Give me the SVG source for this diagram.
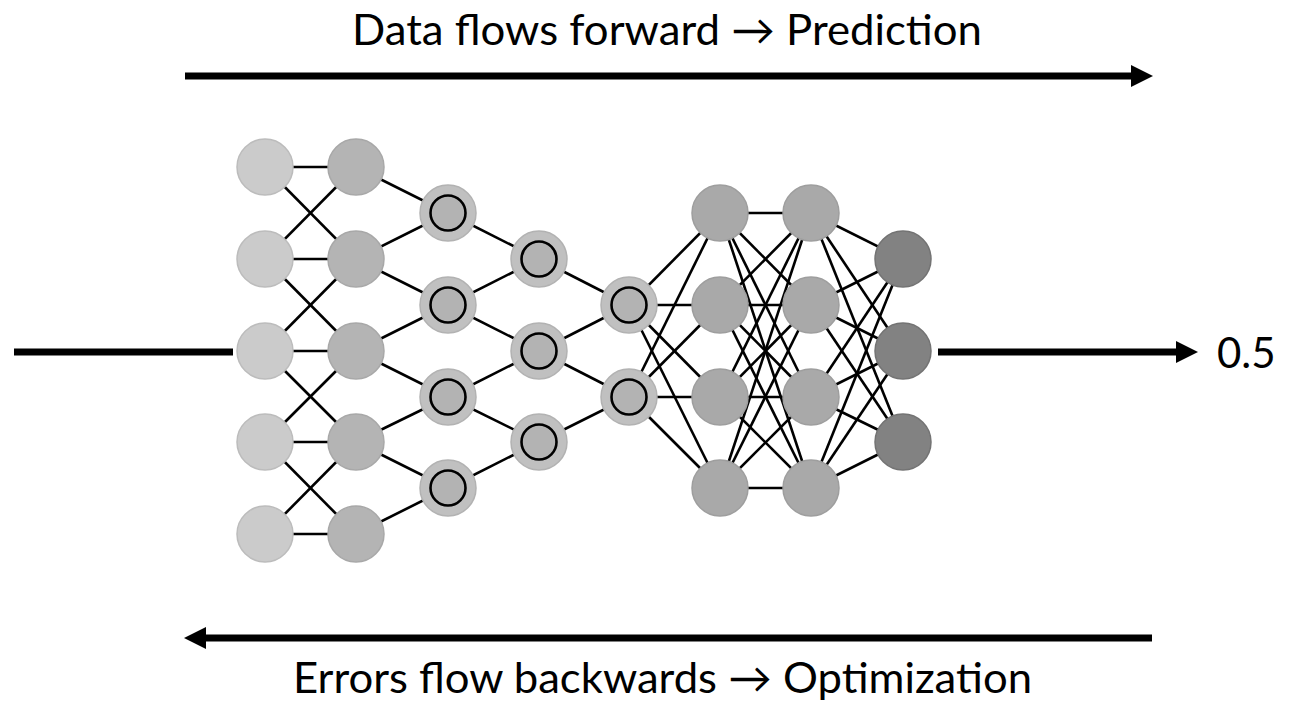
<svg xmlns="http://www.w3.org/2000/svg" width="1304" height="704" viewBox="0 0 1304 704">
  <style>
    .lbl { font-family: Lato, "Open Sans", "Liberation Sans", sans-serif; font-size: 42px; fill: #000; }
    .edge { stroke: #000; stroke-width: 2.6; fill: none; }
    .flow { stroke: #000; stroke-width: 7; fill: none; }
    .in { fill: #cbcbcb; stroke: #bcbcbc; stroke-width: 1.5; }
    .h1 { fill: #b4b4b4; stroke: #a8a8a8; stroke-width: 1.5; }
    .ring { fill: #c0c0c0; stroke: #b2b2b2; stroke-width: 1.5; }
    .core { fill: #b3b3b3; stroke: #000; stroke-width: 2.6; }
    .dense { fill: #a9a9a9; stroke: #9e9e9e; stroke-width: 1.5; }
    .out { fill: #828282; stroke: #737373; stroke-width: 1.5; }
  </style>
  <defs>
    <marker id="head" markerUnits="userSpaceOnUse" markerWidth="22" markerHeight="22" refX="0" refY="11" orient="auto">
      <path d="M0,0 L22,11 L0,22 Z" fill="#000"/>
    </marker>
  </defs>
  <rect width="1304" height="704" fill="#fff"/>

  <!-- flow arrows and captions -->
  <g id="forward">
    <text class="lbl" x="352" y="45" textLength="630" lengthAdjust="spacingAndGlyphs">Data flows forward → Prediction</text>
    <line class="flow" x1="185" y1="76" x2="1131" y2="76" marker-end="url(#head)"/>
  </g>
  <g id="backward">
    <line class="flow" x1="1152" y1="638" x2="206" y2="638" marker-end="url(#head)"/>
    <text class="lbl" x="293" y="693" textLength="739" lengthAdjust="spacingAndGlyphs">Errors flow backwards → Optimization</text>
  </g>

  <!-- connectors -->
  <g id="connectors">
    <line class="flow" x1="14" y1="352" x2="233" y2="352"/>
    <line class="flow" x1="938" y1="352" x2="1176" y2="352" marker-end="url(#head)"/>
    <g class="edge">
      <!-- input to first hidden -->
      <line x1="265" y1="167" x2="356" y2="167"/>
      <line x1="265" y1="259" x2="356" y2="259"/>
      <line x1="265" y1="351" x2="356" y2="351"/>
      <line x1="265" y1="442" x2="356" y2="442"/>
      <line x1="265" y1="534" x2="356" y2="534"/>
      <line x1="265" y1="167" x2="356" y2="259"/>
      <line x1="265" y1="259" x2="356" y2="167"/>
      <line x1="265" y1="259" x2="356" y2="351"/>
      <line x1="265" y1="351" x2="356" y2="259"/>
      <line x1="265" y1="351" x2="356" y2="442"/>
      <line x1="265" y1="442" x2="356" y2="351"/>
      <line x1="265" y1="442" x2="356" y2="534"/>
      <line x1="265" y1="534" x2="356" y2="442"/>
      <!-- funnel into ringed cells -->
      <line x1="356" y1="167" x2="448" y2="213"/>
      <line x1="356" y1="259" x2="448" y2="213"/>
      <line x1="356" y1="259" x2="448" y2="305"/>
      <line x1="356" y1="351" x2="448" y2="305"/>
      <line x1="356" y1="351" x2="448" y2="397"/>
      <line x1="356" y1="442" x2="448" y2="397"/>
      <line x1="356" y1="442" x2="448" y2="488"/>
      <line x1="356" y1="534" x2="448" y2="488"/>
      <line x1="448" y1="213" x2="539" y2="259"/>
      <line x1="448" y1="305" x2="539" y2="259"/>
      <line x1="448" y1="305" x2="539" y2="351"/>
      <line x1="448" y1="397" x2="539" y2="351"/>
      <line x1="448" y1="397" x2="539" y2="442"/>
      <line x1="448" y1="488" x2="539" y2="442"/>
      <line x1="539" y1="259" x2="629" y2="305"/>
      <line x1="539" y1="351" x2="629" y2="305"/>
      <line x1="539" y1="351" x2="629" y2="397"/>
      <line x1="539" y1="442" x2="629" y2="397"/>
      <!-- fully connected block -->
      <line x1="629" y1="305" x2="720" y2="213"/>
      <line x1="629" y1="305" x2="720" y2="305"/>
      <line x1="629" y1="305" x2="720" y2="397"/>
      <line x1="629" y1="305" x2="720" y2="488"/>
      <line x1="629" y1="397" x2="720" y2="213"/>
      <line x1="629" y1="397" x2="720" y2="305"/>
      <line x1="629" y1="397" x2="720" y2="397"/>
      <line x1="629" y1="397" x2="720" y2="488"/>

      <line x1="720" y1="213" x2="811" y2="213"/>
      <line x1="720" y1="213" x2="811" y2="305"/>
      <line x1="720" y1="213" x2="811" y2="397"/>
      <line x1="720" y1="213" x2="811" y2="488"/>
      <line x1="720" y1="305" x2="811" y2="213"/>
      <line x1="720" y1="305" x2="811" y2="305"/>
      <line x1="720" y1="305" x2="811" y2="397"/>
      <line x1="720" y1="305" x2="811" y2="488"/>
      <line x1="720" y1="397" x2="811" y2="213"/>
      <line x1="720" y1="397" x2="811" y2="305"/>
      <line x1="720" y1="397" x2="811" y2="397"/>
      <line x1="720" y1="397" x2="811" y2="488"/>
      <line x1="720" y1="488" x2="811" y2="213"/>
      <line x1="720" y1="488" x2="811" y2="305"/>
      <line x1="720" y1="488" x2="811" y2="397"/>
      <line x1="720" y1="488" x2="811" y2="488"/>

      <line x1="811" y1="213" x2="903" y2="259"/>
      <line x1="811" y1="213" x2="903" y2="351"/>
      <line x1="811" y1="213" x2="903" y2="442"/>
      <line x1="811" y1="305" x2="903" y2="259"/>
      <line x1="811" y1="305" x2="903" y2="351"/>
      <line x1="811" y1="305" x2="903" y2="442"/>
      <line x1="811" y1="397" x2="903" y2="259"/>
      <line x1="811" y1="397" x2="903" y2="351"/>
      <line x1="811" y1="397" x2="903" y2="442"/>
      <line x1="811" y1="488" x2="903" y2="259"/>
      <line x1="811" y1="488" x2="903" y2="351"/>
      <line x1="811" y1="488" x2="903" y2="442"/>
    </g>
  </g>

  <!-- input layer -->
  <g id="in-1"><circle class="in" cx="265" cy="167" r="28"/></g>
  <g id="in-2"><circle class="in" cx="265" cy="259" r="28"/></g>
  <g id="in-3"><circle class="in" cx="265" cy="351" r="28"/></g>
  <g id="in-4"><circle class="in" cx="265" cy="442" r="28"/></g>
  <g id="in-5"><circle class="in" cx="265" cy="534" r="28"/></g>

  <!-- first hidden layer -->
  <g id="h1-1"><circle class="h1" cx="356" cy="167" r="28"/></g>
  <g id="h1-2"><circle class="h1" cx="356" cy="259" r="28"/></g>
  <g id="h1-3"><circle class="h1" cx="356" cy="351" r="28"/></g>
  <g id="h1-4"><circle class="h1" cx="356" cy="442" r="28"/></g>
  <g id="h1-5"><circle class="h1" cx="356" cy="534" r="28"/></g>

  <!-- ringed cells -->
  <g id="r1-1"><circle class="ring" cx="448" cy="213" r="28"/><circle class="core" cx="448" cy="213" r="17.5"/></g>
  <g id="r1-2"><circle class="ring" cx="448" cy="305" r="28"/><circle class="core" cx="448" cy="305" r="17.5"/></g>
  <g id="r1-3"><circle class="ring" cx="448" cy="397" r="28"/><circle class="core" cx="448" cy="397" r="17.5"/></g>
  <g id="r1-4"><circle class="ring" cx="448" cy="488" r="28"/><circle class="core" cx="448" cy="488" r="17.5"/></g>

  <g id="r2-1"><circle class="ring" cx="539" cy="259" r="28"/><circle class="core" cx="539" cy="259" r="17.5"/></g>
  <g id="r2-2"><circle class="ring" cx="539" cy="351" r="28"/><circle class="core" cx="539" cy="351" r="17.5"/></g>
  <g id="r2-3"><circle class="ring" cx="539" cy="442" r="28"/><circle class="core" cx="539" cy="442" r="17.5"/></g>

  <g id="r3-1"><circle class="ring" cx="629" cy="305" r="28"/><circle class="core" cx="629" cy="305" r="17.5"/></g>
  <g id="r3-2"><circle class="ring" cx="629" cy="397" r="28"/><circle class="core" cx="629" cy="397" r="17.5"/></g>

  <!-- dense layers -->
  <g id="d1-1"><circle class="dense" cx="720" cy="213" r="28"/></g>
  <g id="d1-2"><circle class="dense" cx="720" cy="305" r="28"/></g>
  <g id="d1-3"><circle class="dense" cx="720" cy="397" r="28"/></g>
  <g id="d1-4"><circle class="dense" cx="720" cy="488" r="28"/></g>

  <g id="d2-1"><circle class="dense" cx="811" cy="213" r="28"/></g>
  <g id="d2-2"><circle class="dense" cx="811" cy="305" r="28"/></g>
  <g id="d2-3"><circle class="dense" cx="811" cy="397" r="28"/></g>
  <g id="d2-4"><circle class="dense" cx="811" cy="488" r="28"/></g>

  <!-- output layer -->
  <g id="out-1"><circle class="out" cx="903" cy="259" r="28"/></g>
  <g id="out-2"><circle class="out" cx="903" cy="351" r="28"/></g>
  <g id="out-3"><circle class="out" cx="903" cy="442" r="28"/></g>

  <g id="result">
    <text class="lbl" x="1217" y="368">0.5</text>
  </g>
</svg>
